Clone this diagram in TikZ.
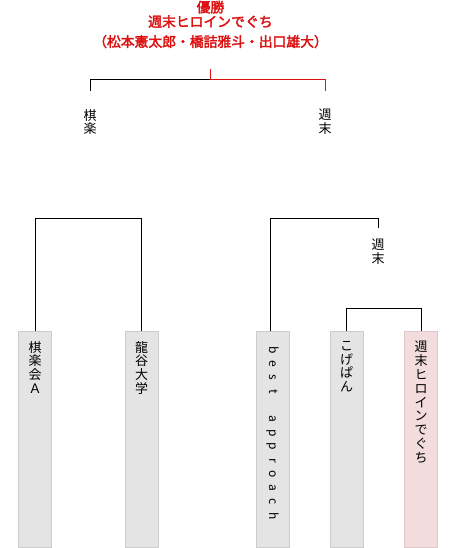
\documentclass[tikz,border=0pt]{standalone}
\usepackage{fontspec}
\setmainfont{Noto Sans CJK JP}
\newfontfamily\cjkb[FakeBold=2.5]{Noto Sans CJK JP}
\usetikzlibrary{calc}
\definecolor{winred}{RGB}{221,17,17}
\definecolor{boxgray}{RGB}{228,228,228}
\definecolor{boxline}{RGB}{204,204,204}
\definecolor{boxpink}{RGB}{242,220,221}
\definecolor{pinkline}{RGB}{222,200,202}
\newcommand\lcell[1]{\makebox[13.8pt]{#1}}
\begin{document}
\begin{tikzpicture}[x=1pt,y=-1pt,
  conn/.style={line width=1pt, black},
  wconn/.style={line width=1pt, winred},
  team/.style={draw=boxline, fill=boxgray, line width=1pt, minimum width=33pt, minimum height=216pt, anchor=north, inner sep=0pt},
  winteam/.style={team, draw=pinkline, fill=boxpink},
  vtext/.style={font=\fontsize{13}{13.8}\selectfont, align=center, inner sep=0pt, anchor=north},
  title/.style={font=\cjkb\fontsize{13.8}{14.5}\selectfont, text=winred, align=center, inner sep=0pt, anchor=north}
]
\useasboundingbox (0,0) rectangle (455,548);

% title
\node[title] (t) at (210.5,0.5) {優勝\\週末ヒロインでぐち\\[5.5pt]（松本憲太郎・橋詰雅斗・出口雄大）};

% boxes
\node[team] (b1) at (35,331) {};
\node[team] (b2) at (141.5,331) {};
\node[team] (b3) at (272.5,331) {};
\node[team] (b4) at (346.7,331) {};
\node[winteam] (b5) at (421,331) {};

% box texts
\node[vtext] (n1) at (35,341) {棋\\楽\\会\\Ａ};
\node[vtext] (n2) at (141.5,341) {龍\\谷\\大\\学};
\node[rotate=-90, anchor=west, inner sep=0pt, font=\fontsize{12}{14}\selectfont] (n3) at (272.5,343)
  {\lcell{b}\lcell{e}\lcell{s}\lcell{t}\lcell{}\lcell{a}\lcell{p}\lcell{p}\lcell{r}\lcell{o}\lcell{a}\lcell{c}\lcell{h}};
\node[vtext] (n4) at (346.7,341) {こ\\げ\\ぱ\\ん};
\node[vtext] (n5) at (421,341) {週\\末\\ヒ\\ロ\\イ\\ン\\で\\ぐ\\ち};

% winner labels
\node[vtext] (l1) at (90,109) {棋\\楽};
\node[vtext] (l2) at (325,109) {週\\末};
\node[vtext] (l3) at (378,239) {週\\末};

% connector ends
\coordinate (c0) at (210.5,69);
\coordinate (c1) at (90,91);
\coordinate (c2) at (325,91);
\coordinate (c3) at (378,228);

% round 1 (left)
\draw[conn] (b1.north) -- ++(0,-113) -| (b2.north);
% round 1 (right)
\draw[conn] (b4.north) -- ++(0,-23) -| (b5.north);
\draw[conn] ($(b3.north)+(-2.5,0)$) -- ++(0,-113) -| (c3);
% final
\draw[conn] (c1) |- (210.5,80);
\draw[wconn] (c0) -- ++(0,11) -| (c2);
\end{tikzpicture}
\end{document}
